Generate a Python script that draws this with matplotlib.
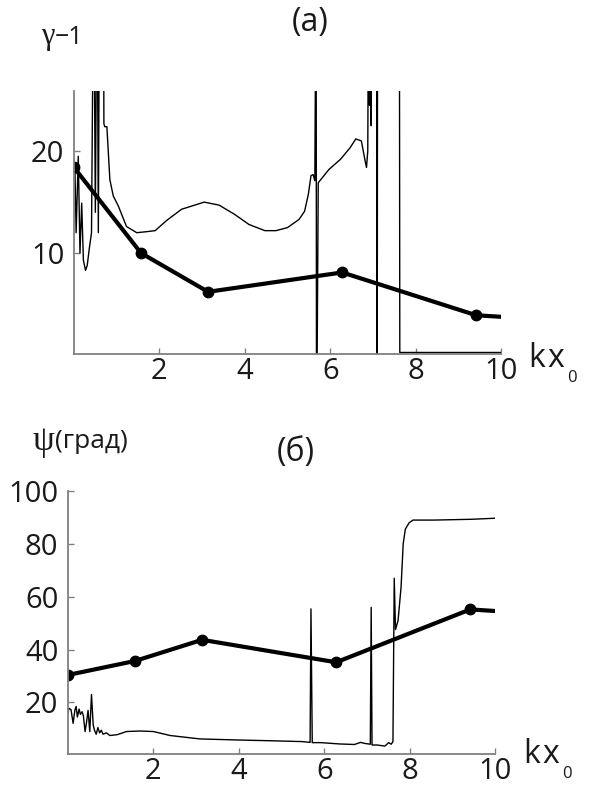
import matplotlib
matplotlib.use("Agg")
import matplotlib.pyplot as plt

plt.rcParams['font.family'] = ['Open Sans', 'DejaVu Sans']

W, H = 592, 787

# thick line with dots (kx0 = 0, pi/2, pi, 2pi, 3pi, then end at 10)
kx_pts = [0.0, 1.57, 3.14, 6.28, 9.42, 10.0]
gamma_pts = [18.4, 10.0, 6.2, 8.1, 3.9, 3.75]
psi_pts = [30.4, 35.7, 43.7, 35.2, 55.2, 54.6]

# thin curve, panel (a); values outside the range are clipped by the axes
kx_gamma = [0.02, 0.05, 0.10, 0.14, 0.18, 0.22, 0.27, 0.31, 0.36, 0.41, 0.46, 0.50,
            0.54, 0.57, 0.60, 0.69, 0.70, 0.72, 0.77, 0.84, 0.92, 1.04, 1.23, 1.47,
            1.70, 1.90, 2.17, 2.52, 3.05, 3.40, 3.76, 4.10, 4.47, 4.73, 5.00, 5.27,
            5.40, 5.49, 5.55, 5.60, 5.64, 5.67, 5.68, 5.72, 5.97, 6.24, 6.46, 6.60,
            6.73, 6.82, 6.85, 6.88, 6.90, 6.92, 6.94, 6.96, 6.97, 7.09, 7.10, 7.11,
            7.62, 7.63, 8.00, 10.0]
gamma_curve = [18.6, 12.0, 19.5, 10.0, 14.9, 9.3, 8.3, 8.8, 10.5, 12.0, 40.0, 14.0,
               40.0, 12.0, 40.0, 40.0, 22.7, 22.4, 22.4, 17.2, 15.6, 14.6, 12.6, 12.0,
               12.1, 12.2, 13.2, 14.3, 15.0, 14.7, 13.8, 12.8, 12.2, 12.2, 12.5, 13.3,
               14.1, 15.8, 17.6, 17.7, 17.1, 40.0, -10.0, 16.9, 18.2, 19.2, 20.3, 21.2,
               21.0, 19.0, 18.4, 20.0, 40.0, 24.5, 40.0, 22.5, 40.0, 40.0, -10.0, 40.0,
               40.0, 0.25, 0.25, 0.25]

# thin curve, panel (б)
kx_psi = [0.0, 0.02, 0.07, 0.12, 0.16, 0.19, 0.22, 0.26, 0.29, 0.33, 0.36, 0.40,
          0.43, 0.47, 0.51, 0.55, 0.59, 0.62, 0.66, 0.70, 0.74, 0.78, 0.82, 0.90,
          0.98, 1.15, 1.37, 1.69, 2.00, 2.39, 3.09, 3.98, 4.77, 5.48, 5.67, 5.69,
          5.72, 5.92, 6.36, 6.71, 6.85, 6.95, 7.08, 7.10, 7.12, 7.24, 7.42, 7.51,
          7.57, 7.61, 7.64, 7.67, 7.73, 7.80, 7.85, 7.90, 7.99, 8.08, 8.57, 9.45, 10.0]
psi_curve = [16.0, 17.8, 17.3, 12.1, 17.0, 18.5, 14.5, 17.5, 15.5, 16.5, 15.0, 9.0,
             12.0, 17.0, 9.0, 23.0, 11.5, 9.5, 8.0, 10.5, 8.5, 9.5, 8.0, 8.5,
             7.5, 7.8, 9.0, 9.2, 9.0, 7.5, 6.2, 5.8, 5.5, 5.2, 4.9, 55.4,
             4.8, 4.8, 4.3, 4.1, 4.9, 4.5, 4.2, 56.0, 3.9, 3.9, 3.5, 4.8,
             4.2, 5.2, 67.0, 47.6, 51.0, 63.6, 80.0, 85.6, 88.0, 89.0, 89.0, 89.3, 89.7]


def px_box(left, top, right, bottom):
    return [left / W, 1 - bottom / H, (right - left) / W, (bottom - top) / H]


def style(ax, ylim, yticks):
    ax.set_xlim(0, 10)
    ax.set_ylim(*ylim)
    ax.set_xticks([2, 4, 6, 8, 10])
    ax.set_yticks(yticks)
    for s in ['top', 'right']:
        ax.spines[s].set_visible(False)
    for s in ['left', 'bottom']:
        ax.spines[s].set_color('#808080')
        ax.spines[s].set_linewidth(1.3)
    ax.tick_params(direction='in', length=4, width=1, color='#808080',
                   labelsize=21, labelcolor='#1a1a1a')
    ax.tick_params(axis='x', pad=2)
    ax.tick_params(axis='y', pad=7)


fig = plt.figure(figsize=(W / 100, H / 100), dpi=100)

# panel (a)
ax1 = fig.add_axes(px_box(74, 91, 501, 354))
ax1.plot(kx_gamma, gamma_curve, color='black', lw=1.0)
ax1.plot(kx_pts, gamma_pts, color='black', lw=3)
ax1.plot(kx_pts[:-1], gamma_pts[:-1], 'o', color='black', ms=7.5)
style(ax1, (0.1, 25.9), [10, 20])

# panel (б)
ax2 = fig.add_axes(px_box(68, 491, 495, 754))
ax2.plot(kx_psi, psi_curve, color='black', lw=1.0)
ax2.plot(kx_pts, psi_pts, color='black', lw=3)
ax2.plot(kx_pts[:-1], psi_pts[:-1], 'o', color='black', ms=7.5)
style(ax2, (0.5, 100), [20, 40, 60, 80, 100])


def ftext(x, y, s, **kw):
    fig.text(x / W, 1 - y / H, s, color='#1a1a1a', **kw)


ftext(310, 23, '(a)', fontsize=23, ha='center', va='center')
ftext(296, 453, '(б)', fontsize=23, ha='center', va='center')

ftext(41, 44, 'γ', fontsize=22, family='Liberation Serif', va='baseline')
ftext(55, 44, '−1', fontsize=18, va='baseline')
ftext(33, 450, 'ψ', fontsize=25, family='Liberation Serif', va='baseline')
ftext(55, 448, '(град)', fontsize=19, va='baseline')

for (kx, ky) in [(528, 367), (523, 763)]:
    ftext(kx, ky, 'k', fontsize=23, va='baseline')
    ftext(kx + 19, ky, 'x', fontsize=23, va='baseline')
    ftext(kx + 39, ky + 15, '0', fontsize=12, va='baseline')

fig.savefig('out.png', dpi=100)
